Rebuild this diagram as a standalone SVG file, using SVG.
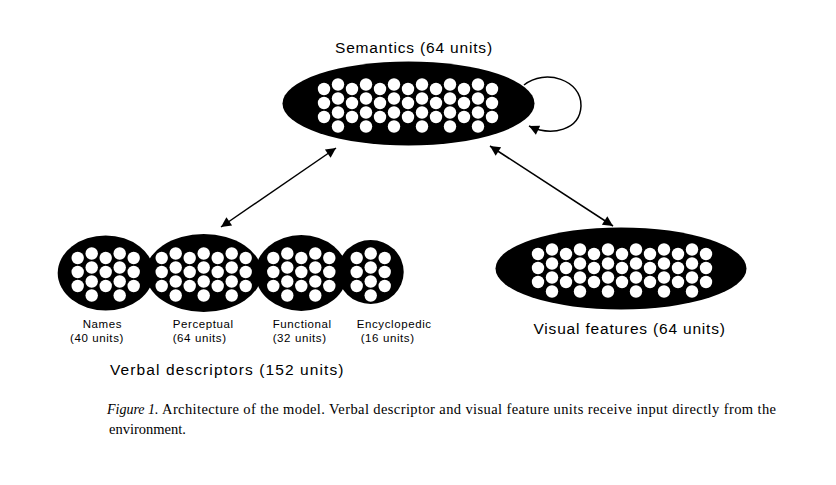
<svg xmlns="http://www.w3.org/2000/svg" xmlns:xlink="http://www.w3.org/1999/xlink" width="836" height="485" viewBox="0 0 836 485">
<style>
.layer{fill:#000}
.dot{fill:#fff}
.lbl{font-family:"Liberation Sans",Arial,sans-serif;fill:#000}
.big{font-size:15.5px}
.small{font-size:11.5px;letter-spacing:0.6px}
.cap{font-family:"Liberation Serif","Times New Roman",serif;font-size:14.5px;fill:#000}
.conn{fill:none;stroke:#000;stroke-width:1.5}
</style>
<defs>
<g id="c3"><circle class="dot" cx="0" cy="0" r="6.2"/><circle class="dot" cx="0" cy="14" r="6.2"/><circle class="dot" cx="0" cy="28" r="6.2"/></g>
<g id="c4"><circle class="dot" cx="0" cy="-4.5" r="6.2"/><circle class="dot" cx="0" cy="9.5" r="6.2"/><circle class="dot" cx="0" cy="23.5" r="6.2"/><circle class="dot" cx="0" cy="37.5" r="6.2"/></g>
<marker id="ah" viewBox="0 0 10 10" refX="10" refY="5" markerWidth="13" markerHeight="10" markerUnits="userSpaceOnUse" orient="auto-start-reverse"><path d="M0,0 L10,5 L0,10 z" fill="#000"/></marker>
</defs>
<rect width="836" height="485" fill="#fff"/>

<g id="semantics">
<ellipse class="layer" cx="408.5" cy="103.5" rx="126" ry="42"/>
<g transform="translate(324,89)">
<use href="#c3" x="0"/><use href="#c4" x="14"/><use href="#c3" x="28"/><use href="#c4" x="42"/><use href="#c3" x="56"/><use href="#c4" x="70"/><use href="#c3" x="84"/><use href="#c4" x="98"/><use href="#c3" x="112"/><use href="#c4" x="126"/><use href="#c3" x="140"/><use href="#c4" x="154"/><use href="#c3" x="168"/>
</g>
<text class="lbl big" x="335" y="52.5" style="letter-spacing:0.83px">Semantics (64 units)</text>
</g>

<g id="visual">
<ellipse class="layer" cx="621" cy="268.5" rx="125.5" ry="41"/>
<g transform="translate(538,254)">
<use href="#c3" x="0"/><use href="#c4" x="14"/><use href="#c3" x="28"/><use href="#c4" x="42"/><use href="#c3" x="56"/><use href="#c4" x="70"/><use href="#c3" x="84"/><use href="#c4" x="98"/><use href="#c3" x="112"/><use href="#c4" x="126"/><use href="#c3" x="140"/><use href="#c4" x="154"/><use href="#c3" x="168"/>
</g>
<text class="lbl big" x="533.5" y="333.5" style="letter-spacing:0.81px">Visual features (64 units)</text>
</g>

<g id="verbal">
<g id="names">
<ellipse class="layer" cx="105.7" cy="273" rx="48" ry="37.5"/>
<g transform="translate(77.7,258)">
<use href="#c3" x="0"/><use href="#c4" x="14"/><use href="#c3" x="28"/><use href="#c4" x="42"/><use href="#c3" x="56"/>
</g>
<text class="lbl small" x="82.7" y="328">Names</text>
<text class="lbl small" x="70" y="341.5">(40 units)</text>
</g>
<g id="perceptual">
<ellipse class="layer" cx="203.7" cy="273" rx="58" ry="39"/>
<g transform="translate(161.7,258)">
<use href="#c3" x="0"/><use href="#c4" x="14"/><use href="#c3" x="28"/><use href="#c4" x="42"/><use href="#c3" x="56"/><use href="#c4" x="70"/><use href="#c3" x="84"/>
</g>
<text class="lbl small" x="172.7" y="328">Perceptual</text>
<text class="lbl small" x="172.7" y="341.5">(64 units)</text>
</g>
<g id="functional">
<ellipse class="layer" cx="301.3" cy="273" rx="46" ry="38"/>
<g transform="translate(273.3,258)">
<use href="#c3" x="0"/><use href="#c4" x="14"/><use href="#c3" x="28"/><use href="#c4" x="42"/><use href="#c3" x="56"/>
</g>
<text class="lbl small" x="272.7" y="328">Functional</text>
<text class="lbl small" x="272.7" y="341.5">(32 units)</text>
</g>
<g id="encyclopedic">
<ellipse class="layer" cx="370.7" cy="272" rx="33" ry="32"/>
<g transform="translate(356.7,258)">
<use href="#c3" x="0"/><use href="#c4" x="14"/><use href="#c3" x="28"/>
</g>
<text class="lbl small" x="356.7" y="328">Encyclopedic</text>
<text class="lbl small" x="360.7" y="341.5">(16 units)</text>
</g>
<text class="lbl big" x="110" y="375" style="letter-spacing:1.1px">Verbal descriptors (152 units)</text>
</g>

<g id="connectors">
<path class="conn" d="M221,227 L336,148" marker-start="url(#ah)" marker-end="url(#ah)"/>
<path class="conn" d="M490,146 L613,226" marker-start="url(#ah)" marker-end="url(#ah)"/>
<path class="conn" d="M524,85 C545,68 582,80 581,106 C580,130 552,137 529,126" marker-end="url(#ah)"/>
</g>

<g id="caption">
<text class="cap" x="107" y="414" font-style="italic" style="font-size:14px">Figure 1.</text>
<text class="cap" x="162" y="414" textLength="614" lengthAdjust="spacing">Architecture of the model. Verbal descriptor and visual feature units receive input directly from the</text>
<text class="cap" x="109" y="434">environment.</text>
</g>
</svg>
